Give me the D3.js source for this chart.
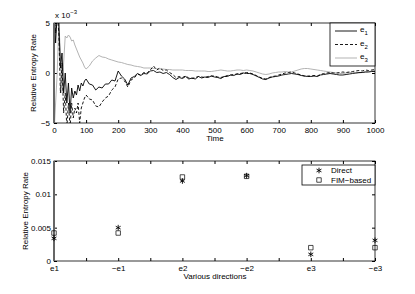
<!DOCTYPE html>
<html>
<head>
<meta charset="utf-8">
<script src="https://cdn.jsdelivr.net/npm/d3@7"></script>
<style>
  body { margin: 0; background: #fff; }
  svg { display: block; font-family: 'Liberation Sans', Arial, sans-serif; }
  .tick text { font-size: 8px; fill: #000; }
  .tick line { stroke: #000; }
</style>
</head>
<body>
<svg id="chart" width="415" height="294"></svg>
<script>
'use strict';

// top panel: relative entropy rate over time (x 10^-3)
var times = [1, 5, 10, 15, 20, 25, 30, 35, 40, 45, 50, 55, 60, 65, 70, 75, 80, 85, 90, 95, 100,
  110, 120, 130, 140, 150, 160, 170, 180, 190, 200,
  210, 220, 230, 240, 250, 260, 270, 280, 290, 300,
  310, 320, 330, 340, 350, 360, 370, 380, 390, 400,
  410, 420, 430, 440, 450, 460, 470, 480, 490, 500,
  510, 520, 530, 540, 550, 560, 570, 580, 590, 600,
  610, 620, 630, 640, 650, 660, 670, 680, 690, 700,
  710, 720, 730, 740, 750, 760, 770, 780, 790, 800,
  810, 820, 830, 840, 850, 860, 870, 880, 890, 900,
  910, 920, 930, 940, 950, 960, 970, 980, 990, 1000]

var e1 = [6, 3, 6, 5, 0.5, 2, -2, 0, -3, -1, -4, -1.5, -2.5, -1.8, -2.2, -1.2, -1.8, -1.0, -1.3, -0.8, -0.6,
  -1.1, -1.2, -1.7, -1.4, -1.5, -1.1, -1.1, -0.7, -0.8, 0.2,
  -0.3, -0.6, -1.2, -0.5, -0.35, -0.05, -0.25, -0.05, -0.1, 0.2,
  0.25, 0.05, 0.1, -0.05, 0.05, -0.15, -0.45, -0.65, -0.45, -0.55,
  -0.35, -0.6, -0.5, -0.6, -0.35, -0.5, -0.4, -0.45, -0.3, -0.4,
  -0.45, -0.55, -0.35, -0.35, -0.2, -0.25, -0.1, -0.15, 0, -0.05,
  -0.05, -0.15, -0.3, -0.45, -0.6, -0.65, -0.5, -0.4, -0.35, -0.3,
  -0.2, -0.15, -0.1, -0.05, -0.1, -0.15, -0.25, -0.3, -0.35, -0.35,
  -0.3, -0.35, -0.2, -0.15, -0.1, -0.05, -0.1, -0.15, -0.2, -0.2,
  -0.15, -0.1, -0.05, 0, 0.05, 0.05, 0.1, 0.1, 0.15, 0.15]

var e2 = [6, 4, 6, 4, -2, 1, -4, -2, -5.5, -3, -5.5, -3, -4.5, -3.5, -4, -3, -5, -3.5, -3, -2.5, -2.2,
  -2.6, -2.7, -3.3, -3.4, -2.9, -2.5, -2.3, -1.7, -1.4, -0.6,
  -0.5, -0.8, -1.4, -0.7, -0.5, -0.1, -0.2, 0.05, 0, 0.3,
  0.7, 0.3, 0.5, 0.25, 0.3, 0.05, -0.15, -0.45, -0.35, -0.45,
  -0.3, -0.5, -0.55, -0.45, -0.35, -0.4, -0.45, -0.35, -0.3, -0.3,
  -0.4, -0.45, -0.35, -0.25, -0.2, -0.15, -0.1, -0.05, 0, 0.05,
  0, -0.1, -0.25, -0.4, -0.55, -0.6, -0.45, -0.35, -0.3, -0.2,
  -0.1, 0, 0.05, 0.1, 0, -0.1, -0.2, -0.3, -0.3, -0.3,
  -0.25, -0.3, -0.15, -0.05, 0, 0.05, 0, 0, 0.05, 0.1,
  0.05, 0.1, 0.15, 0.2, 0.25, 0.2, 0.3, 0.25, 0.3, 0.35]

var e3 = [-5.5, -3, 0, 5, 2, -2, 1, 3.7, 3.5, 3.8, 3.6, 3.2, 3.3, 2.8, 2.4, 2.0, 1.6, 1.3, 1.0, 0.6, 0.4,
  0.7, 1.2, 1.5, 1.75, 1.6, 1.55, 1.4, 1.3, 1.2, 1.1,
  1.05, 0.95, 0.85, 0.8, 0.7, 0.65, 0.6, 0.5, 0.5, 0.5,
  0.45, 0.45, 0.4, 0.4, 0.35, 0.35, 0.3, 0.3, 0.3, 0.3,
  0.25, 0.25, 0.25, 0.2, 0.2, 0.2, 0.2, 0.15, 0.15, 0.2,
  0.25, 0.3, 0.25, 0.2, 0.2, 0.25, 0.3, 0.3, 0.25, 0.3,
  0.25, 0.2, 0.1, 0, -0.1, -0.15, -0.1, 0, 0.05, 0.1,
  0.1, 0.15, 0.1, 0.1, 0.2, 0.3, 0.4, 0.45, 0.45, 0.4,
  0.35, 0.3, 0.25, 0.2, 0.15, 0.1, 0.05, 0, -0.05, -0.05,
  0, 0.05, 0.05, 0, 0, 0.05, 0.1, 0.15, 0.2, 0.2]

var timeTicks = [0, 100, 200, 300, 400, 500, 600, 700, 800, 900, 1000]
var rateTicks = [-5, 0, 5]

// bottom panel: per-direction rates
var directions = ['e1', '\u2212e1', 'e2', '\u2212e2', 'e3', '\u2212e3']
var direct = [0.0034, 0.005, 0.012, 0.0128, 0.001, 0.0031]
var fimBased = [0.0042, 0.0042, 0.0126, 0.0127, 0.002, 0.002]
var dirTicks = [1, 1.5, 2, 2.5, 3, 3.5, 4, 4.5, 5, 5.5, 6]
var bottomTicks = [0, 0.005, 0.01, 0.015]

var svg = d3.select('#chart')
var left = 54, right = 375

// ---------- top panel ----------
var top1 = 23, bot1 = 123
var x1 = d3.scaleLinear().domain([0, 1000]).range([left, right])
var y1 = d3.scaleLinear().domain([-5, 5]).range([bot1, top1])

svg.append('clipPath').attr('id', 'clip1')
  .append('rect')
  .attr('x', left).attr('y', top1)
  .attr('width', right - left).attr('height', bot1 - top1)

function frame(yTop, yBot) {
  svg.append('rect')
    .attr('x', left).attr('y', yTop)
    .attr('width', right - left).attr('height', yBot - yTop)
    .attr('fill', 'none').attr('stroke', '#000').attr('stroke-width', 0.8)
}

svg.append('g')
  .attr('transform', 'translate(0,' + bot1 + ')')
  .call(d3.axisBottom(x1).tickValues(timeTicks).tickSize(-3).tickPadding(4).tickFormat(d3.format('d')))
  .call(function(g) { g.select('.domain').remove() })
svg.append('g')
  .attr('transform', 'translate(0,' + top1 + ')')
  .call(d3.axisTop(x1).tickValues(timeTicks).tickSize(-3).tickFormat(''))
  .call(function(g) { g.select('.domain').remove() })
svg.append('g')
  .attr('transform', 'translate(' + left + ',0)')
  .call(d3.axisLeft(y1).tickValues(rateTicks).tickSize(-3).tickPadding(4)
    .tickFormat(function(d) { return d < 0 ? '\u2212' + (-d) : d }))
  .call(function(g) { g.select('.domain').remove() })
svg.append('g')
  .attr('transform', 'translate(' + right + ',0)')
  .call(d3.axisRight(y1).tickValues(rateTicks).tickSize(-3).tickFormat(''))
  .call(function(g) { g.select('.domain').remove() })

var series = [
  { name: '1', values: e1, color: '#000', dash: null, width: 0.9 },
  { name: '2', values: e2, color: '#000', dash: '3,2', width: 0.9 },
  { name: '3', values: e3, color: '#aaa', dash: null, width: 0.9 }
]

var line1 = d3.line()
  .x(function(d, i) { return x1(times[i]) })
  .y(function(d) { return y1(d) })

var plot1 = svg.append('g').attr('clip-path', 'url(#clip1)')
series.slice().reverse().forEach(function(s) {
  plot1.append('path')
    .datum(s.values)
    .attr('d', line1)
    .attr('fill', 'none')
    .attr('stroke', s.color)
    .attr('stroke-width', s.width)
    .attr('stroke-dasharray', s.dash)
})
frame(top1, bot1)
svg.append('line')
  .attr('x1', left).attr('x2', left).attr('y1', top1).attr('y2', bot1)
  .attr('stroke', '#666').attr('stroke-width', 2)

// exponent label
var expo = svg.append('text').attr('x', 55).attr('y', 18).attr('font-size', 8)
expo.append('tspan').text('x 10')
expo.append('tspan').attr('dy', -4).attr('font-size', 6).text('\u22123')

svg.append('text')
  .attr('transform', 'translate(36,' + ((top1 + bot1) / 2) + ') rotate(-90)')
  .attr('text-anchor', 'middle').attr('font-size', 8)
  .text('Relative Entropy Rate')
svg.append('text')
  .attr('x', 215).attr('y', 141)
  .attr('text-anchor', 'middle').attr('font-size', 8)
  .text('Time')

// legend top
var leg1 = svg.append('g')
leg1.append('rect')
  .attr('x', 330).attr('y', 23).attr('width', 45).attr('height', 43)
  .attr('fill', '#fff').attr('stroke', '#000').attr('stroke-width', 0.8)
series.forEach(function(s, i) {
  var yy = 31 + i * 13.5
  leg1.append('line')
    .attr('x1', 335).attr('x2', 357).attr('y1', yy).attr('y2', yy)
    .attr('stroke', s.color).attr('stroke-width', s.width)
    .attr('stroke-dasharray', s.dash)
  var t = leg1.append('text').attr('x', 360).attr('y', yy + 1).attr('font-size', 8)
  t.append('tspan').text('e')
  t.append('tspan').attr('dy', 3).attr('font-size', 6).text(s.name)
})

// ---------- bottom panel ----------
var top2 = 161, bot2 = 261
var x2 = d3.scaleLinear().domain([1, 6]).range([left, right])
var y2 = d3.scaleLinear().domain([0, 0.015]).range([bot2, top2])

svg.append('g')
  .attr('transform', 'translate(0,' + bot2 + ')')
  .call(d3.axisBottom(x2).tickValues(dirTicks).tickSize(-3).tickPadding(4)
    .tickFormat(function(d) { return Number.isInteger(d) ? directions[d - 1] : '' }))
  .call(function(g) { g.select('.domain').remove() })
svg.append('g')
  .attr('transform', 'translate(0,' + top2 + ')')
  .call(d3.axisTop(x2).tickValues(dirTicks).tickSize(-3).tickFormat(''))
  .call(function(g) { g.select('.domain').remove() })
svg.append('g')
  .attr('transform', 'translate(' + left + ',0)')
  .call(d3.axisLeft(y2).tickValues(bottomTicks).tickSize(-3).tickPadding(3)
    .tickFormat(function(d) { return d === 0 ? '0' : String(+d.toFixed(3)) }))
  .call(function(g) { g.select('.domain').remove() })
svg.append('g')
  .attr('transform', 'translate(' + right + ',0)')
  .call(d3.axisRight(y2).tickValues(bottomTicks).tickSize(-3).tickFormat(''))
  .call(function(g) { g.select('.domain').remove() })

frame(top2, bot2)
svg.append('line')
  .attr('x1', left).attr('x2', left).attr('y1', top2).attr('y2', bot2)
  .attr('stroke', '#666').attr('stroke-width', 2)

var star = d3.symbol().type(d3.symbolAsterisk).size(22)
var square = d3.symbol().type(d3.symbolSquare).size(20)

svg.append('g').selectAll('path')
  .data(fimBased)
  .enter().append('path')
  .attr('d', square)
  .attr('transform', function(d, i) { return 'translate(' + x2(i + 1) + ',' + y2(d) + ')' })
  .attr('fill', 'none').attr('stroke', '#000').attr('stroke-width', 0.7)

svg.append('g').selectAll('path')
  .data(direct)
  .enter().append('path')
  .attr('d', star)
  .attr('transform', function(d, i) { return 'translate(' + x2(i + 1) + ',' + y2(d) + ')' })
  .attr('fill', 'none').attr('stroke', '#000').attr('stroke-width', 0.9)

svg.append('text')
  .attr('transform', 'translate(28,' + ((top2 + bot2) / 2) + ') rotate(-90)')
  .attr('text-anchor', 'middle').attr('font-size', 8)
  .text('Relative Entropy Rate')
svg.append('text')
  .attr('x', 215).attr('y', 279)
  .attr('text-anchor', 'middle').attr('font-size', 8)
  .text('Various directions')

// legend bottom
var leg2 = svg.append('g')
leg2.append('rect')
  .attr('x', 302).attr('y', 165).attr('width', 73).attr('height', 20)
  .attr('fill', '#fff').attr('stroke', '#000').attr('stroke-width', 0.8)
leg2.append('path').attr('d', star)
  .attr('transform', 'translate(319,170.5)')
  .attr('fill', 'none').attr('stroke', '#000').attr('stroke-width', 0.9)
leg2.append('path').attr('d', square)
  .attr('transform', 'translate(319,180)')
  .attr('fill', 'none').attr('stroke', '#000').attr('stroke-width', 0.7)
leg2.append('text').attr('x', 331).attr('y', 173).attr('font-size', 8).text('Direct')
leg2.append('text').attr('x', 331).attr('y', 182.5).attr('font-size', 8).text('FIM\u2212based')
</script>
</body>
</html>
